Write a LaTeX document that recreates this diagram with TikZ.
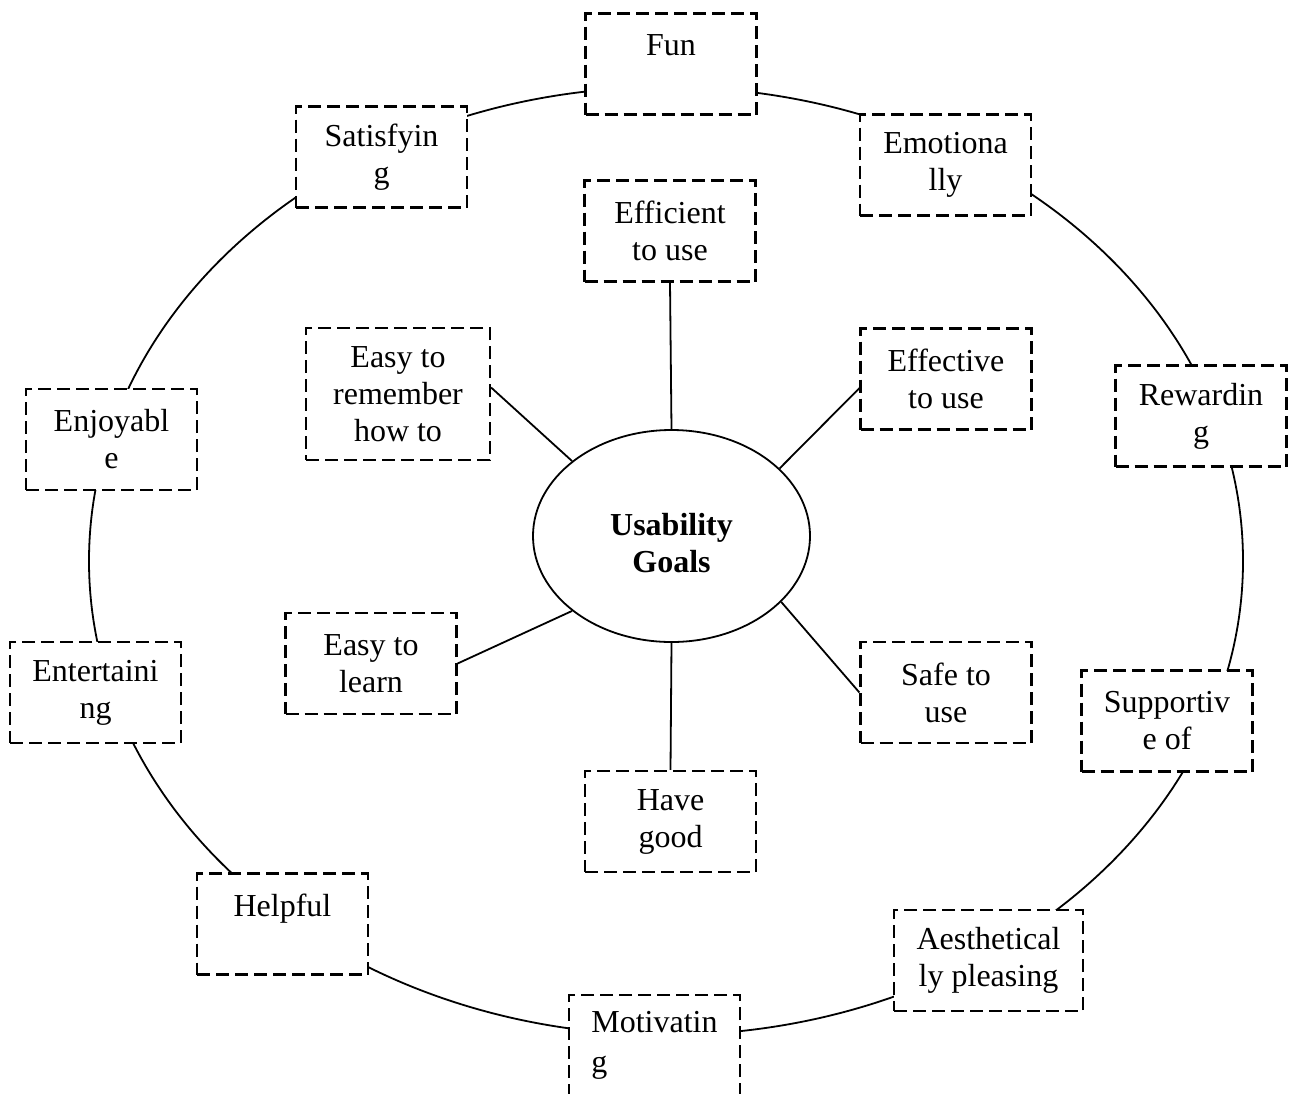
\documentclass[tikz,border=0pt]{standalone}
\usepackage{fontspec}
\setmainfont{Liberation Serif}
\usetikzlibrary{shapes.geometric}
\tikzset{%
  goal/.style={draw,dashed,dash pattern=on 6.5pt off 3pt,line width=1.1pt,fill=white,
    minimum width=85.5pt,minimum height=50.5pt,inner sep=0pt,align=center,
    font=\fontsize{16}{18.5}\selectfont},
  hub/.style={ellipse,draw,line width=0.9pt,fill=white,minimum width=138.5pt,minimum height=106pt,
    inner sep=0pt,align=center,font=\fontsize{16}{18.5}\selectfont\bfseries},
  spoke/.style={line width=0.9pt},
  ring/.style={line width=0.9pt},
}

\begin{document}
\begin{tikzpicture}[x=0.5pt,y=-0.5pt]
      \clip (0,0) rectangle (1290,1093);

      \draw[ring] (666,561) ellipse [x radius=577,y radius=474];

      \node[goal] (node_fun) at (671,64) {Fun\\~};
      \node[goal] (node_satisfying) at (381.5,157) {Satisfyin\\g};
      \node[goal] (node_emotionally) at (945.5,165) {Emotiona\\lly};
      \node[goal] (node_rewarding) at (1201,416) {Rewardin\\g};
      \node[goal] (node_enjoyable) at (111.5,439.5) {Enjoyabl\\e};
      \node[goal] (node_entertaining) at (95.5,692.5) {Entertaini\\ng};
      \node[goal] (node_supportive) at (1167,721) {Supportiv\\e of};
      \node[goal] (node_helpful) at (282.5,924) {Helpful\\~};
      \node[goal,minimum width=94.5pt] (node_aesthetic) at (988.5,960.5) {Aesthetical\\ly pleasing};
      \node[goal,align=left] (node_motivating) at (654.5,1045.5) {Motivatin\\[1.5pt]g};

      \node[hub] (node_usability) at (671.5,536) {\rule{0pt}{18pt}Usability\\Goals};

      \node[goal] (node_efficient) at (670,231) {Efficient\\to use};
      \node[goal,minimum width=92pt,minimum height=66pt] (node_remember) at (398,394) {Easy to\\remember\\how to};
      \node[goal] (node_effective) at (946,379) {Effective\\to use};
      \node[goal] (node_learn) at (371,663.5) {Easy to\\learn};
      \node[goal] (node_safe) at (946,692.5) {Safe to\\use};
      \node[goal] (node_have) at (670.5,821.5) {Have\\good};

      \draw[spoke] (node_usability.north) -- (node_efficient.south);
      \draw[spoke] (node_usability.143) -- (node_remember.4);
      \draw[spoke] (node_usability.32) -- (node_effective.186);
      \draw[spoke] (node_usability.217) -- (node_learn.east);
      \draw[spoke] (node_usability.-31) -- (node_safe.west);
      \draw[spoke] (node_usability.south) -- (node_have.north);
    \end{tikzpicture}
\end{document}
